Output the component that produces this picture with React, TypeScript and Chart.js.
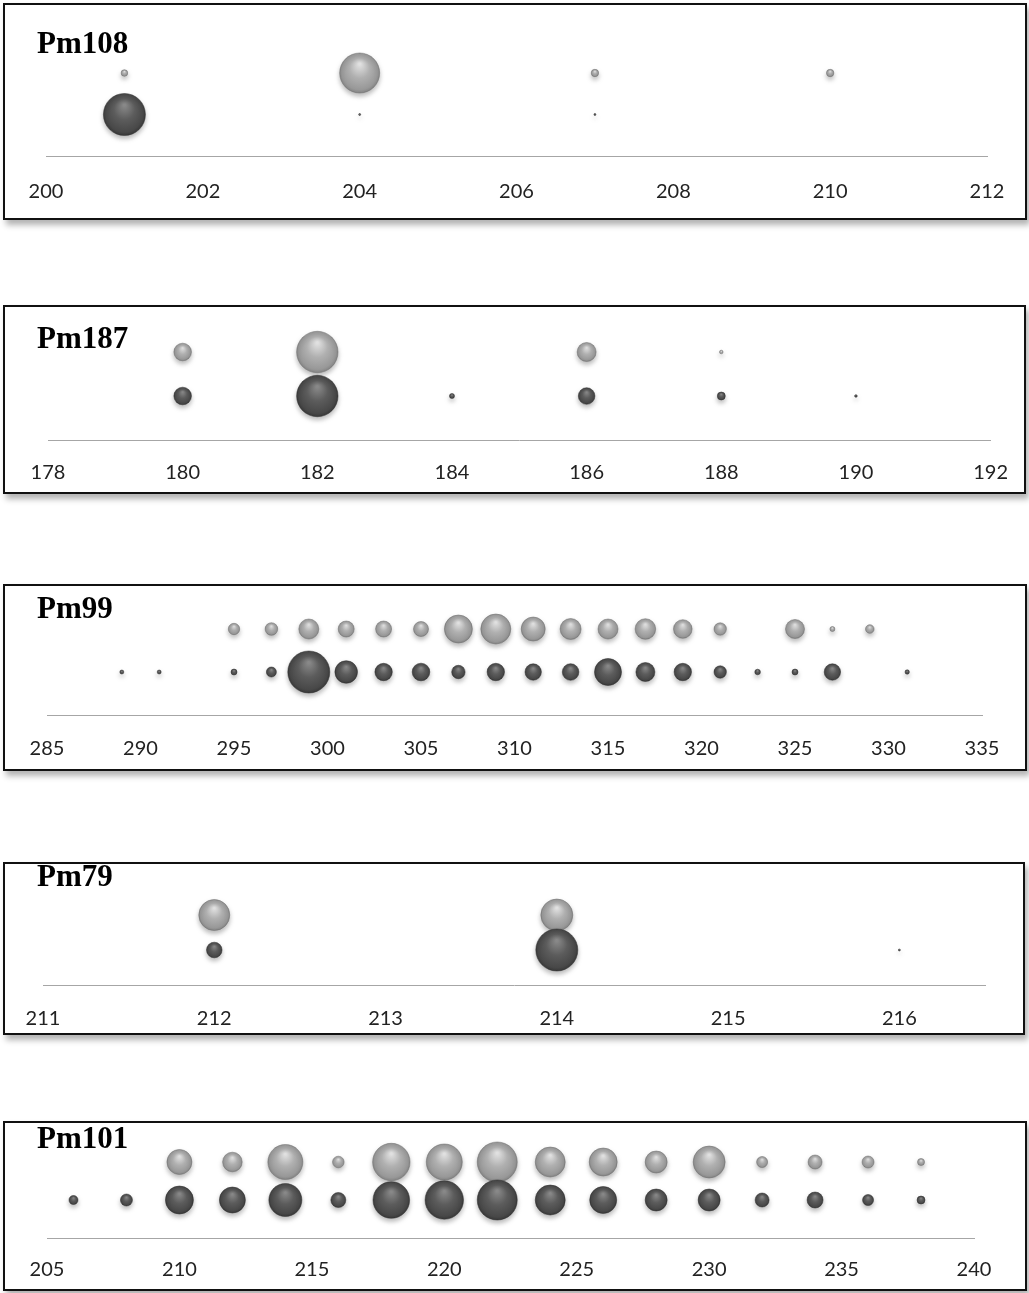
import React, { useEffect, useRef } from "react";
import { Chart, registerables } from "chart.js";

Chart.register(...registerables);

// ---------- DATA ----------
const LIGHT_ROW = 2;
const DARK_ROW = 1;

// Pm108
const pm108Ticks = [200, 202, 204, 206, 208, 210, 212];
const pm108DarkX = [201, 204, 207];
const pm108DarkR = [21, 1, 1];
const pm108LightX = [201, 204, 207, 210];
const pm108LightR = [3.3, 20, 3.7, 3.7];

// Pm187
const pm187Ticks = [178, 180, 182, 184, 186, 188, 190, 192];
const pm187DarkX = [180, 182, 184, 186, 188, 190];
const pm187DarkR = [8.8, 20.7, 2.5, 8.3, 4, 1.3];
const pm187LightX = [180, 182, 186, 188];
const pm187LightR = [8.8, 20.7, 9.5, 1.8];

// Pm99
const pm99Ticks = [285, 290, 295, 300, 305, 310, 315, 320, 325, 330, 335];
const pm99DarkX = [289, 291, 295, 297, 299, 301, 303, 305, 307, 309, 311, 313, 315, 317, 319, 321, 323, 325, 327, 331];
const pm99DarkR = [2, 2, 3, 5, 21, 11.3, 8.7, 8.8, 6.7, 8.7, 8.2, 8.3, 13.5, 9.5, 8.7, 6.2, 2.8, 3, 8.2, 2.2];
const pm99LightX = [295, 297, 299, 301, 303, 305, 307, 309, 311, 313, 315, 317, 319, 321, 325, 327, 329];
const pm99LightR = [5.7, 6.3, 10, 8, 8, 7.5, 14, 15, 12, 10.5, 10, 10.3, 9.3, 6.2, 9.5, 2.5, 4.3];

// Pm79
const pm79Ticks = [211, 212, 213, 214, 215, 216];
const pm79Max = 216.5;
const pm79DarkX = [212, 214, 216];
const pm79DarkR = [7.8, 21, 1];
const pm79LightX = [212, 214];
const pm79LightR = [15.5, 16];

// Pm101
const pm101Ticks = [205, 210, 215, 220, 225, 230, 235, 240];
const pm101DarkX = [206, 208, 210, 212, 214, 216, 218, 220, 222, 224, 226, 228, 230, 232, 234, 236, 238];
const pm101DarkR = [4.5, 6, 14, 13, 16.5, 7.5, 18.3, 19.2, 20, 15, 13.5, 11, 11, 7, 8, 5.5, 4];
const pm101LightX = [210, 212, 214, 216, 218, 220, 222, 224, 226, 228, 230, 232, 234, 236, 238];
const pm101LightR = [12.5, 9.8, 17.5, 5.8, 18.7, 18, 20, 15, 14, 11, 16, 5.5, 7, 6, 3.5];

// ---------- STYLE / LAYOUT ----------
const TICK_FONT = 20;
const TICK_LINE = TICK_FONT * 1.2;

type PanelLayout = {
  boxTop: number;
  boxBottom: number;
  boxRight: number;
  chartLeft: number;
  chartRight: number;
  axisY: number;
  labelPad: number;
  rowPx: number;
  titleTop: number;
};

const toPoints = (xs: number[], rs: number[], row: number) =>
  xs.map((x, i) => ({ x, y: row, r: rs[i] }));

const makeGradient = (kind: "light" | "dark") => (ctx: any) => {
  const fallback = kind === "light" ? "#a8a8a8" : "#585858";
  const chart = ctx.chart;
  const raw = ctx.raw;
  if (!raw || !chart.scales || !chart.scales.x || !chart.scales.y) return fallback;
  const x = chart.scales.x.getPixelForValue(raw.x);
  const y = chart.scales.y.getPixelForValue(raw.y);
  const r = Math.max(raw.r, 0.5);
  if (!isFinite(x) || !isFinite(y)) return fallback;
  const g = chart.ctx.createRadialGradient(x, y - r * 0.45, r * 0.05, x, y, r * 1.05);
  if (kind === "light") {
    g.addColorStop(0, "#e0e0e0");
    g.addColorStop(0.45, "#b0b0b0");
    g.addColorStop(0.85, "#989898");
    g.addColorStop(1, "#808080");
  } else {
    g.addColorStop(0, "#888888");
    g.addColorStop(0.45, "#5c5c5c");
    g.addColorStop(0.85, "#484848");
    g.addColorStop(1, "#353535");
  }
  return g;
};

const shadowPlugin = {
  id: "bubbleShadow",
  beforeDatasetDraw(chart: any) {
    const c = chart.ctx;
    c.save();
    c.shadowColor = "rgba(0,0,0,0.28)";
    c.shadowBlur = 5;
    c.shadowOffsetY = 3;
  },
  afterDatasetDraw(chart: any) {
    chart.ctx.restore();
  },
};

type PanelProps = {
  title: string;
  ticks: number[];
  xMax?: number;
  darkX: number[];
  darkR: number[];
  lightX: number[];
  lightR: number[];
  layout: PanelLayout;
};

function BubblePanel(p: PanelProps) {
  const ref = useRef<HTMLCanvasElement>(null);
  const L = p.layout;
  const canvasTop = L.boxTop + 2;
  const canvasHeight = L.axisY + 2 * L.labelPad + TICK_LINE - canvasTop;
  const chartTop = L.axisY - 3 * L.rowPx;

  useEffect(() => {
    const canvas = ref.current!;
    const chart = new Chart(canvas, {
      type: "bubble",
      data: {
        datasets: [
          {
            label: "dark",
            data: toPoints(p.darkX, p.darkR, DARK_ROW),
            backgroundColor: makeGradient("dark"),
            borderColor: "rgba(45,45,45,0.7)",
            borderWidth: 0.7,
            clip: false,
          } as any,
          {
            label: "light",
            data: toPoints(p.lightX, p.lightR, LIGHT_ROW),
            backgroundColor: makeGradient("light"),
            borderColor: "rgba(110,110,110,0.7)",
            borderWidth: 0.7,
            clip: false,
          } as any,
        ],
      },
      options: {
        responsive: false,
        animation: false,
        devicePixelRatio: 1,
        events: [],
        layout: {
          autoPadding: false,
          padding: {
            left: L.chartLeft,
            right: 1029 - L.chartRight,
            top: chartTop - canvasTop,
            bottom: 0,
          },
        },
        plugins: {
          legend: { display: false },
          tooltip: { enabled: false },
          title: { display: false },
        },
        scales: {
          x: {
            type: "linear",
            min: p.ticks[0],
            max: p.xMax ?? p.ticks[p.ticks.length - 1],
            afterBuildTicks: (axis: any) => {
              axis.ticks = p.ticks.map((v) => ({ value: v }));
            },
            grid: { display: false, drawTicks: false },
            border: { display: true, color: "#a6a6a6", width: 1 },
            ticks: {
              font: { family: "Lato", size: TICK_FONT },
              color: "#222222",
              padding: L.labelPad,
              autoSkip: false,
              maxRotation: 0,
              minRotation: 0,
              callback: (v: any) => String(v),
            },
          },
          y: { display: false, min: 0, max: 3 },
        },
      } as any,
      plugins: [shadowPlugin],
    });
    return () => chart.destroy();
  }, []);

  return (
    <>
      <div
        style={{
          position: "absolute",
          left: 3,
          top: L.boxTop,
          width: L.boxRight - 3,
          height: L.boxBottom - L.boxTop,
          border: "2px solid #111",
          boxSizing: "border-box",
          background: "#fff",
          boxShadow: "3px 5px 6px rgba(0,0,0,0.3)",
        }}
      />
      <canvas
        ref={ref}
        width={1029}
        height={canvasHeight}
        style={{ position: "absolute", left: 0, top: canvasTop, width: 1029, height: canvasHeight }}
      />
      <div
        style={{
          position: "absolute",
          left: 37,
          top: L.titleTop,
          font: 'bold 31px "Liberation Serif", "Times New Roman", serif',
          lineHeight: "31px",
          color: "#000",
          whiteSpace: "nowrap",
        }}
      >
        {p.title}
      </div>
    </>
  );
}

const layout108: PanelLayout = { boxTop: 3, boxBottom: 220, boxRight: 1027, chartLeft: 46, chartRight: 987, axisY: 156, labelPad: 24, rowPx: 41.5, titleTop: 27 };
const layout187: PanelLayout = { boxTop: 305, boxBottom: 494, boxRight: 1026, chartLeft: 48, chartRight: 994, axisY: 440, labelPad: 21, rowPx: 44, titleTop: 322 };
const layout99: PanelLayout = { boxTop: 584, boxBottom: 771, boxRight: 1027, chartLeft: 47, chartRight: 982, axisY: 715, labelPad: 22, rowPx: 44, titleTop: 592 };
const layout79: PanelLayout = { boxTop: 862, boxBottom: 1035, boxRight: 1025, chartLeft: 43, chartRight: 985, axisY: 985, labelPad: 22, rowPx: 35, titleTop: 860 };
const layout101: PanelLayout = { boxTop: 1121, boxBottom: 1291, boxRight: 1027, chartLeft: 47, chartRight: 974, axisY: 1238, labelPad: 20, rowPx: 38, titleTop: 1122 };

export default function App() {
  return (
    <div style={{ position: "absolute", left: 0, top: 0, width: 1029, height: 1293, background: "#fff" }}>
      <BubblePanel title="Pm108" ticks={pm108Ticks} darkX={pm108DarkX} darkR={pm108DarkR} lightX={pm108LightX} lightR={pm108LightR} layout={layout108} />
      <BubblePanel title="Pm187" ticks={pm187Ticks} darkX={pm187DarkX} darkR={pm187DarkR} lightX={pm187LightX} lightR={pm187LightR} layout={layout187} />
      <BubblePanel title="Pm99" ticks={pm99Ticks} darkX={pm99DarkX} darkR={pm99DarkR} lightX={pm99LightX} lightR={pm99LightR} layout={layout99} />
      <BubblePanel title="Pm79" ticks={pm79Ticks} xMax={pm79Max} darkX={pm79DarkX} darkR={pm79DarkR} lightX={pm79LightX} lightR={pm79LightR} layout={layout79} />
      <BubblePanel title="Pm101" ticks={pm101Ticks} darkX={pm101DarkX} darkR={pm101DarkR} lightX={pm101LightX} lightR={pm101LightR} layout={layout101} />
    </div>
  );
}
